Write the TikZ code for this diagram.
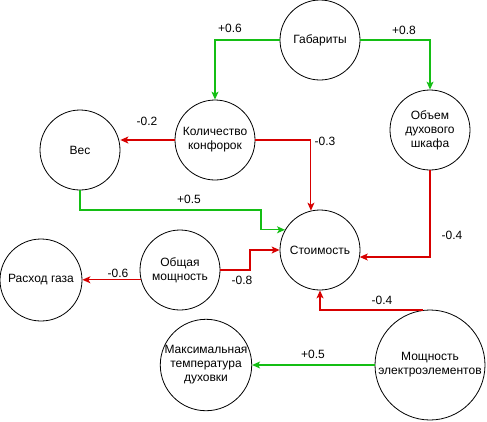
\documentclass[tikz,border=0pt]{standalone}
\usepackage{fontspec}
\setmainfont{Liberation Sans}
\usetikzlibrary{arrows.meta}
\definecolor{posgreen}{RGB}{20,190,20}
\definecolor{negred}{RGB}{215,0,0}
\begin{document}
\begin{tikzpicture}[x=1pt,y=-1pt,
  every node/.style={font=\fontsize{12}{14}\selectfont},
  factor/.style={draw,circle,inner sep=0pt,align=center,line width=0.8pt},
  link/.style={line width=1.1pt,-{Stealth[length=8pt,width=7pt,inset=2pt]}},
  poslink/.style={link,draw=posgreen},
  neglink/.style={link,draw=negred},
  weight/.style={inner sep=1pt}]
\useasboundingbox (0,0) rectangle (487,421);

% factors
\node[factor,minimum size=80pt] (gab) at (320,40) {Габариты};
\node[factor,minimum size=80pt] (kol) at (215,140) {Количество\\конфорок};
\node[factor,minimum size=80pt] (obj) at (430,130) {Объем\\духового\\шкафа};
\node[factor,minimum size=80pt] (ves) at (80,150) {Вес};
\node[factor,minimum size=80pt] (cost) at (320,250) {Стоимость};
\node[factor,minimum size=80pt] (pow) at (180,270) {Общая\\мощность};
\node[factor,minimum size=82pt] (gas) at (41,280) {Расход газа};
\node[factor,minimum size=90pt] (temp) at (206,365) {Максимальная\\температура\\духовки};
\node[factor,minimum size=110pt] (elem) at (430,365) {Мощность\\электроэлементов};

% bend points
\coordinate (vbend) at (261,210);
\coordinate (pbend) at (250,250);

% influences
\draw[poslink] (gab.west) -| (kol.north);
\draw[poslink] (gab.east) -| (obj.north);
\draw[neglink] (kol.west) -- (kol.west -| ves.east);
\draw[neglink] (kol.east) -| (cost.103);
\draw[neglink] (obj.south) |- (cost.-10);
\draw[poslink] (ves.south) |- (vbend) |- (cost.150);
\draw[neglink] (pow.east) -| (pbend) -- (cost.west);
\draw[neglink] (pow.194) -- (pow.194 -| gas.east);
\draw[neglink] (elem.97) -| (cost.south);
\draw[poslink] (elem.west) -- (temp.east);

% weights
\node[weight] (w1) at (230,28) {+0.6};
\node[weight] (w2) at (404,30) {+0.8};
\node[weight] (w3) at (147,121) {-0.2};
\node[weight] (w4) at (325,141) {-0.3};
\node[weight] (w5) at (189,199) {+0.5};
\node[weight] (w6) at (452,235) {-0.4};
\node[weight] (w7) at (118,273) {-0.6};
\node[weight] (w8) at (242,280) {-0.8};
\node[weight] (w9) at (382,300) {-0.4};
\node[weight] (w10) at (313,354) {+0.5};
\end{tikzpicture}
\end{document}
